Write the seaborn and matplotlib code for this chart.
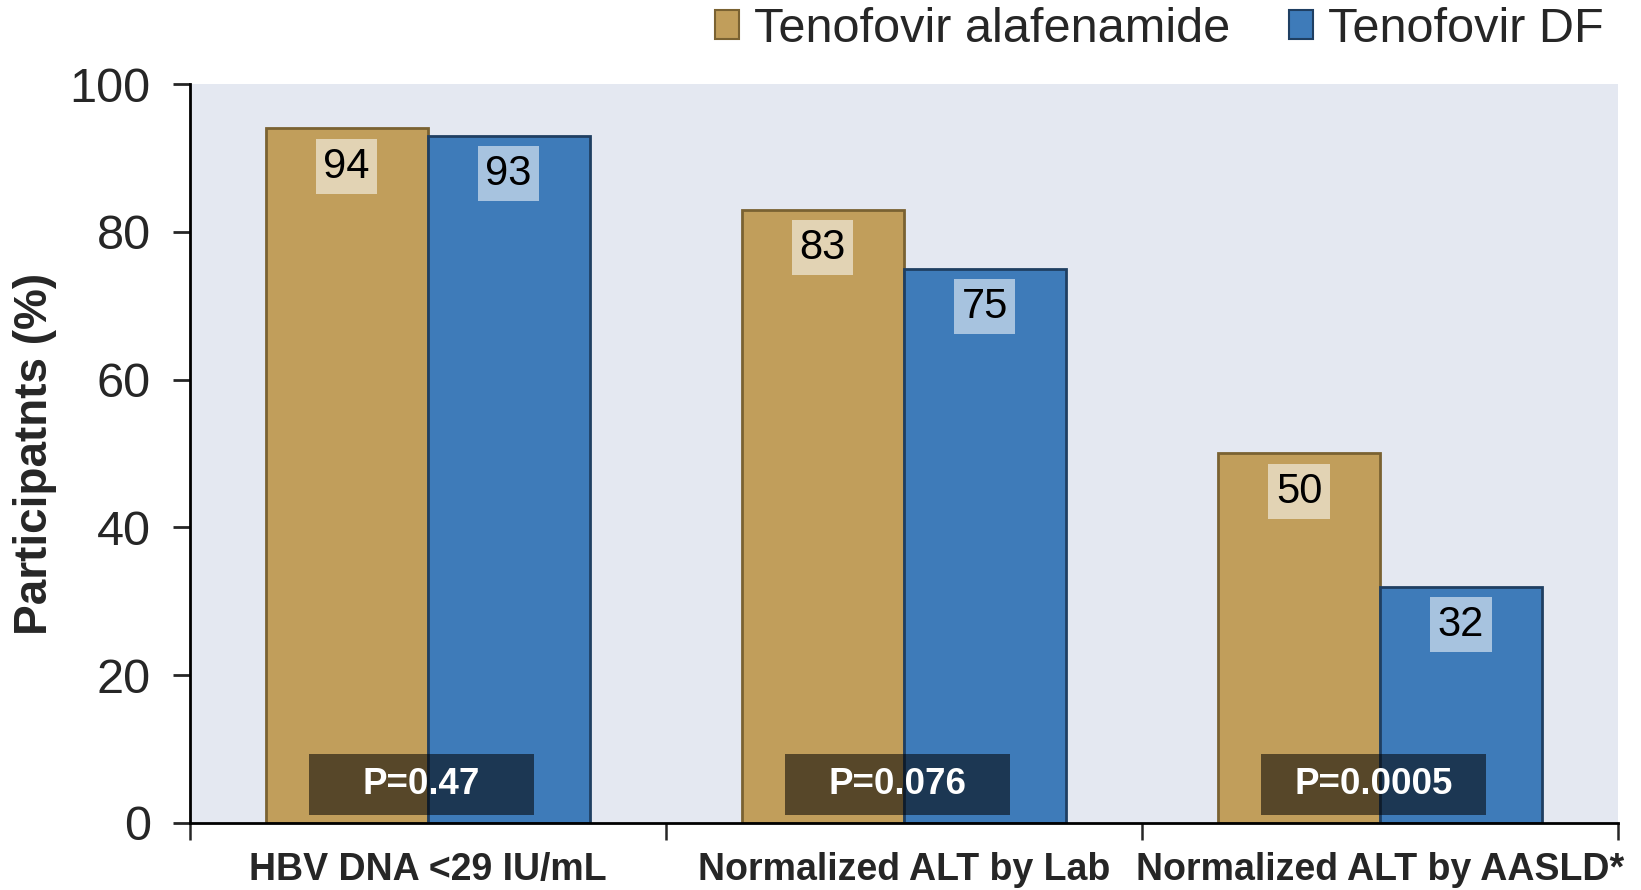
import matplotlib
matplotlib.use("Agg")
import matplotlib.pyplot as plt
from matplotlib.patches import Rectangle, Patch
from matplotlib.ticker import FixedLocator
import seaborn as sns
import pandas as pd

# chart data
categories = ["HBV DNA <29 IU/mL", "Normalized ALT by Lab", "Normalized ALT by AASLD*"]
groups = ["Tenofovir alafenamide", "Tenofovir DF"]
taf_values = [94, 83, 50]
tdf_values = [93, 75, 32]
p_values = ["P=0.47", "P=0.076", "P=0.0005"]
y_ticks = [0, 20, 40, 60, 80, 100]

colors = {"Tenofovir alafenamide": "#C19E5B", "Tenofovir DF": "#3E7BB9"}
edges = {"Tenofovir alafenamide": "#7A6232", "Tenofovir DF": "#1F3F62"}

df = pd.DataFrame({
    "Category": categories * 2,
    "Group": [groups[0]] * 3 + [groups[1]] * 3,
    "Value": taf_values + tdf_values,
})

sns.set_theme(style="white")
plt.rcParams["font.family"] = ["Liberation Sans", "DejaVu Sans"]

fig = plt.figure(figsize=(16.41, 8.90), dpi=100)
ax = fig.add_axes([0.1155, 0.0753, 0.8705, 0.8303])
ax.set_facecolor("#E4E8F1")

sns.barplot(data=df, x="Category", y="Value", hue="Group", hue_order=groups,
            palette=colors, width=0.68, saturation=1, ax=ax, legend=False)

# darker edges to hint at the bevel
for cont, g in zip(ax.containers, groups):
    for bar in cont:
        bar.set_edgecolor(edges[g])
        bar.set_linewidth(2)

# value labels near the top of each bar
for cont in ax.containers:
    for bar in cont:
        h = bar.get_height()
        ax.annotate(f"{h:.0f}", (bar.get_x() + bar.get_width() / 2, h),
                    xytext=(0, -27.5), textcoords="offset points",
                    ha="center", va="center", fontsize=30, color="black",
                    bbox=dict(boxstyle="square,pad=0.18", fc="white", ec="none", alpha=0.55))

# p-value boxes spanning each pair of bars
for i, p in enumerate(p_values):
    cx = i - 0.013
    ax.add_patch(Rectangle((cx - 0.236, 1.1), 0.472, 8.2, facecolor="black",
                           alpha=0.55, edgecolor="none", zorder=5))
    ax.text(cx, 5.2, p, ha="center", va="center", fontsize=26.5,
            fontweight="bold", color="white", zorder=6)

ax.set_xlim(-0.5, 2.5)
ax.set_ylim(0, 100)
ax.set_yticks(y_ticks)
ax.set_xlabel("")
ax.set_ylabel("Participatnts (%)", fontsize=33, fontweight="bold", va="center")
ax.yaxis.set_label_coords(-0.1085, 0.5)

ax.tick_params(axis="y", labelsize=35, direction="out", length=12, width=2,
               left=True, pad=16)
ax.tick_params(axis="x", which="major", labelsize=27, length=0, pad=21)
ax.xaxis.set_minor_locator(FixedLocator([-0.5, 0.5, 1.5, 2.5]))
ax.tick_params(axis="x", which="minor", direction="out", length=12, width=1.8,
               bottom=True)
for lbl in ax.get_xticklabels():
    lbl.set_fontweight("bold")

for s in ["top", "right"]:
    ax.spines[s].set_visible(False)
for s in ["left", "bottom"]:
    ax.spines[s].set_linewidth(2)
    ax.spines[s].set_color("black")

handles = [Patch(facecolor=colors[g], edgecolor=edges[g], linewidth=1.5) for g in groups]
fig.legend(handles, groups, loc="center right", bbox_to_anchor=(0.977, 0.967),
           ncol=2, frameon=False, fontsize=35, handlelength=0.5,
           handleheight=0.55, handletextpad=0.3, columnspacing=1.2,
           borderpad=0, borderaxespad=0)

fig.savefig("out.png", dpi=100)
